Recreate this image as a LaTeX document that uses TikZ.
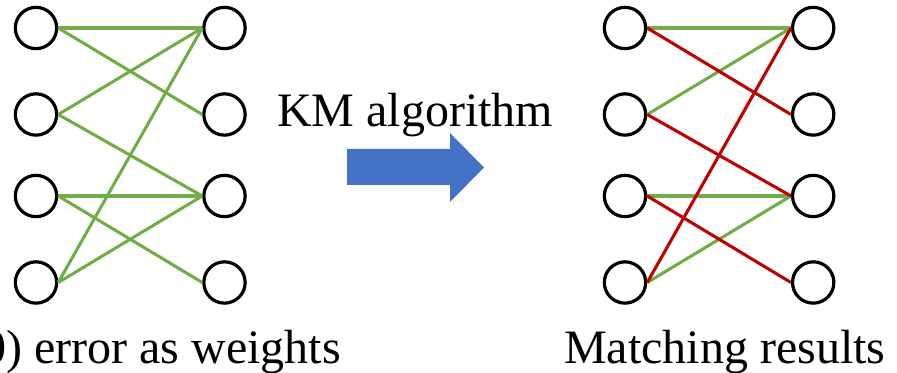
\documentclass[tikz,border=0pt]{standalone}
\usepackage{fontspec}
\setmainfont{Liberation Serif}
\definecolor{egreen}{HTML}{70AD47}
\definecolor{ered}{HTML}{C00000}
\definecolor{ablue}{HTML}{4472C4}
\begin{document}
\begin{tikzpicture}[x=0.75pt,y=-0.75pt,
  vert/.style={circle,draw=black,line width=2.4pt,minimum size=31pt,inner sep=0pt,fill=white},
  gedge/.style={draw=egreen,line width=2.3pt},
  redge/.style={draw=ered,line width=2.3pt},
  lbl/.style={font=\fontsize{36pt}{40pt}\selectfont,inner sep=0pt}]
\useasboundingbox (0,0) rectangle (897,373);
% left graph
\foreach \i/\y in {1/28,2/114.5,3/196,4/282.5}{
  \node[vert] (a\i) at (36,\y) {};
  \node[vert] (b\i) at (224.5,\y) {};
}
\draw[gedge] (a1.east) -- (b1.west);
\draw[gedge] (a1.east) -- (b2.west);
\draw[gedge] (a2.east) -- (b1.west);
\draw[gedge] (a2.east) -- (b3.west);
\draw[gedge] (a3.east) -- (b3.west);
\draw[gedge] (a3.east) -- (b4.west);
\draw[gedge] (a4.east) -- (b1.west);
\draw[gedge] (a4.east) -- (b3.west);
% right graph
\foreach \i/\y in {1/28,2/114.5,3/196,4/282.5}{
  \node[vert] (c\i) at (625,\y) {};
  \node[vert] (d\i) at (813.2,\y) {};
}
\draw[gedge] (c1.east) -- (d1.west);
\draw[gedge] (c2.east) -- (d1.west);
\draw[gedge] (c3.east) -- (d3.west);
\draw[gedge] (c4.east) -- (d3.west);
\draw[redge] (c1.east) -- (d2.west);
\draw[redge] (c2.east) -- (d3.west);
\draw[redge] (c3.east) -- (d4.west);
\draw[redge] (c4.east) -- (d1.west);
% arrow
\fill[ablue] (347,149) -- (450,149) -- (450,133) -- (484,167.5) -- (450,202) -- (450,185) -- (347,185) -- cycle;
% labels
\node[lbl,anchor=base west] (km) at (277,127) {KM algorithm};
\node[lbl,anchor=base east] (lt) at (341,364) {0) error as weights};
\node[lbl,anchor=base west] (rt) at (564,364) {Matching results};
\end{tikzpicture}
\end{document}
